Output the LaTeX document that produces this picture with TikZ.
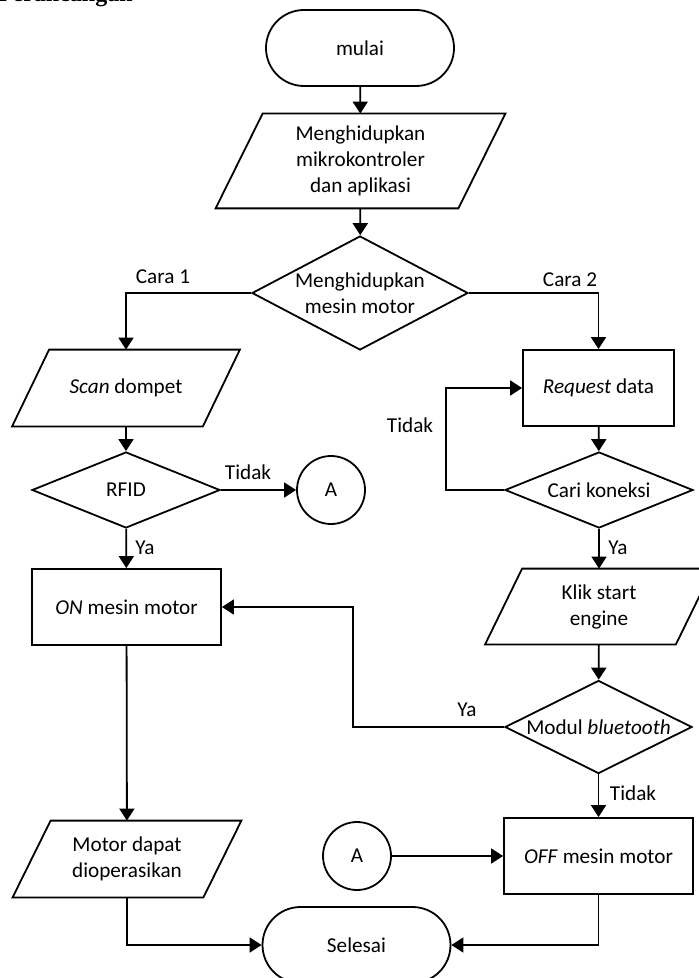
\documentclass[tikz,border=0pt]{standalone}
\usepackage{fontspec}
\setmainfont{Carlito}
\newfontfamily\headfont{Liberation Serif}
\usetikzlibrary{shapes.geometric,arrows.meta}
\tikzset{
  txt/.style={font=\fontsize{10.6}{13}\selectfont,align=center},
  base/.style={draw,line width=0.9pt,inner sep=0pt,txt},
  term/.style={base,rectangle,rounded corners=19pt,minimum width=94pt,minimum height=38pt},
  proc/.style={base,rectangle,minimum height=38pt},
  io/.style={txt,rectangle,inner sep=0pt,minimum width=95pt,minimum height=38pt},
  dec/.style={draw,line width=0.9pt,diamond,inner sep=0pt,minimum width=94pt,minimum height=38pt},
  dtext/.style={label={[txt,inner sep=0pt]center:#1}},
  conn/.style={base,circle,minimum size=34pt},
  lbl/.style={font=\fontsize{10.6}{13}\selectfont,inner sep=0pt},
  arr/.style={line width=0.9pt,-{Triangle[length=6pt,width=7.5pt]}},
  ln/.style={line width=0.9pt,line join=miter}
}
\begin{document}
\begin{tikzpicture}[x=0.5pt,y=-0.5pt]
\useasboundingbox (0,0) rectangle (699,978);
\clip (0,0) rectangle (699,978);
% partial heading at top
\node[anchor=base east,inner sep=0pt,font=\headfont\bfseries\fontsize{12}{14}\selectfont] (head) at (133,2) {Perancangan};
% nodes
\node[term] (mulai) at (360,48) {mulai};
\node[io,minimum width=121pt,minimum height=47pt] (p1) at (360.5,161) {Menghidupkan\\mikrokontroler\\dan aplikasi};
\node[dec,minimum width=108pt,minimum height=57pt,dtext={Menghidupkan\\mesin motor}] (d1) at (360,293) {};
\node[io] (scan) at (126,388) {\textit{Scan} dompet};
\node[dec,dtext={RFID}] (rfid) at (126,490) {};
\node[conn] (a1) at (331,490) {A};
\node[proc,minimum width=94.5pt] (on) at (126.5,607) {\textit{ON} mesin motor};
\node[io] (motor) at (127,859) {Motor dapat\\dioperasikan};
\node[term] (selesai) at (356.5,945) {Selesai};
\node[proc,minimum width=75.5pt] (req) at (598.5,388) {\textit{Request} data};
\node[dec,dtext={Cari koneksi}] (cari) at (599,490) {};
\node[io,minimum height=37.5pt] (klik) at (599,606.5) {Klik start\\engine};
\node[dec,minimum width=93.5pt,minimum height=46.5pt,dtext={Modul \textit{bluetooth}}] (modul) at (598.5,727) {};
\node[proc,minimum width=94.5pt] (off) at (598.5,856) {\textit{OFF} mesin motor};
\node[conn] (a2) at (357,856) {A};
\coordinate (yaturn) at (353,727);
% parallelogram outlines
\draw[ln] ([xshift=-11.75pt]p1.south west) -- ([xshift=-11.75pt]p1.south east) -- ([xshift=11.75pt]p1.north east) -- ([xshift=11.75pt]p1.north west) -- cycle;
\draw[ln] ([xshift=-9.25pt]scan.south west) -- ([xshift=-9.25pt]scan.south east) -- ([xshift=9.25pt]scan.north east) -- ([xshift=9.25pt]scan.north west) -- cycle;
\draw[ln] ([xshift=-9.5pt]motor.south west) -- ([xshift=-9.5pt]motor.south east) -- ([xshift=9.5pt]motor.north east) -- ([xshift=9.5pt]motor.north west) -- cycle;
\draw[ln] ([xshift=-9.25pt]klik.south west) -- ([xshift=-9.25pt]klik.south east) -- ([xshift=9.25pt]klik.north east) -- ([xshift=9.25pt]klik.north west) -- cycle;
% labels
\node[lbl] (lc1) at (163,277) {Cara 1};
\node[lbl] (lc2) at (570,280) {Cara 2};
\node[lbl] (ltid1) at (248,472) {Tidak};
\node[lbl] (lya1) at (145,548) {Ya};
\node[lbl] (ltid2) at (410,425) {Tidak};
\node[lbl] (lya2) at (618,548) {Ya};
\node[lbl] (lya3) at (467,710) {Ya};
\node[lbl] (ltid3) at (633,793) {Tidak};
% connectors
\draw[arr] (mulai) -- (p1);
\draw[arr] (p1) -- (d1);
\draw[arr] (d1.west) -| (scan.north);
\draw[arr] (d1.east) -| (req.north);
\draw[arr] (scan) -- (rfid);
\draw[arr] (rfid.east) -- (a1.west);
\draw[arr] (rfid) -- (on);
\draw[arr] (on) -- (motor);
\draw[arr] (motor.south) |- (selesai.west);
\draw[arr] (off.south) |- (selesai.east);
\draw[arr] (a2.east) -- (a2.east -| off.west);
\draw[arr] (req) -- (cari);
\draw[arr] (cari.west) -- ++(-58,0) |- (req.west);
\draw[arr] (cari) -- (klik);
\draw[arr] (klik) -- (modul);
\draw[arr] (modul.west) -- (modul.west -| yaturn) |- (on.east);
\draw[arr] (modul) -- (off);
\end{tikzpicture}
\end{document}
